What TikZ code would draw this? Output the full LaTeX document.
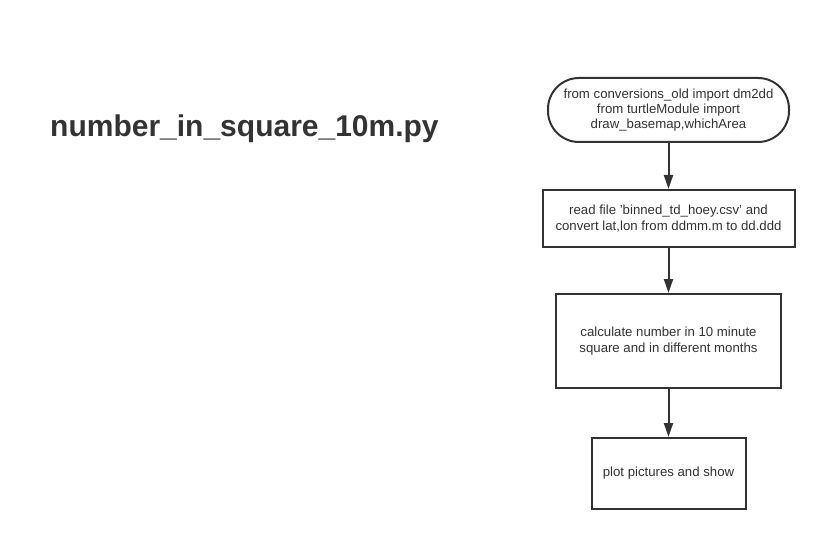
\documentclass[tikz,border=0pt]{standalone}
\usepackage{fontspec}
\setmainfont{Liberation Sans}
\usepackage{xcolor}
\usetikzlibrary{arrows.meta, shapes, positioning}
\definecolor{ink}{HTML}{333333}

\begin{document}
\begin{tikzpicture}[>={Triangle[length=14pt, width=9pt]}, x=1pt, y=1pt,
    box/.style={rectangle, draw=ink, line width=2pt, text=ink, align=center, font=\fontsize{13.2}{15.2}\selectfont},
    flow/.style={->, draw=ink, fill=ink, line width=2pt}]
      \useasboundingbox (0, 0) rectangle (827, -540);

      \node[anchor=west, inner sep=0pt, text=ink, font=\fontsize{30}{34}\bfseries\selectfont] (title) at (50, -129) {number\_in\_square\_10m.py};

      \node[box, rounded corners=31pt, minimum width=241pt, minimum height=64pt] (imports) at (668.5, -110) {from conversions\_old import dm2dd\\from turtleModule import\\draw\_basemap,whichArea};
      \node[box, minimum width=252pt, minimum height=57pt, below=46pt of imports] (readfile) {read file 'binned\_td\_hoey.csv' and\\convert lat,lon from ddmm.m to dd.ddd};
      \node[box, minimum width=225pt, minimum height=94pt, below=45pt of readfile] (calc) {calculate number in 10 minute\\square and in different months};
      \node[box, minimum width=154pt, minimum height=71pt, below=48pt of calc] (plot) {plot pictures and show};

      \draw[flow] (imports.south) -- (readfile.north);
      \draw[flow] (readfile.south) -- (calc.north);
      \draw[flow] (calc.south) -- (plot.north);
    \end{tikzpicture}
\end{document}
